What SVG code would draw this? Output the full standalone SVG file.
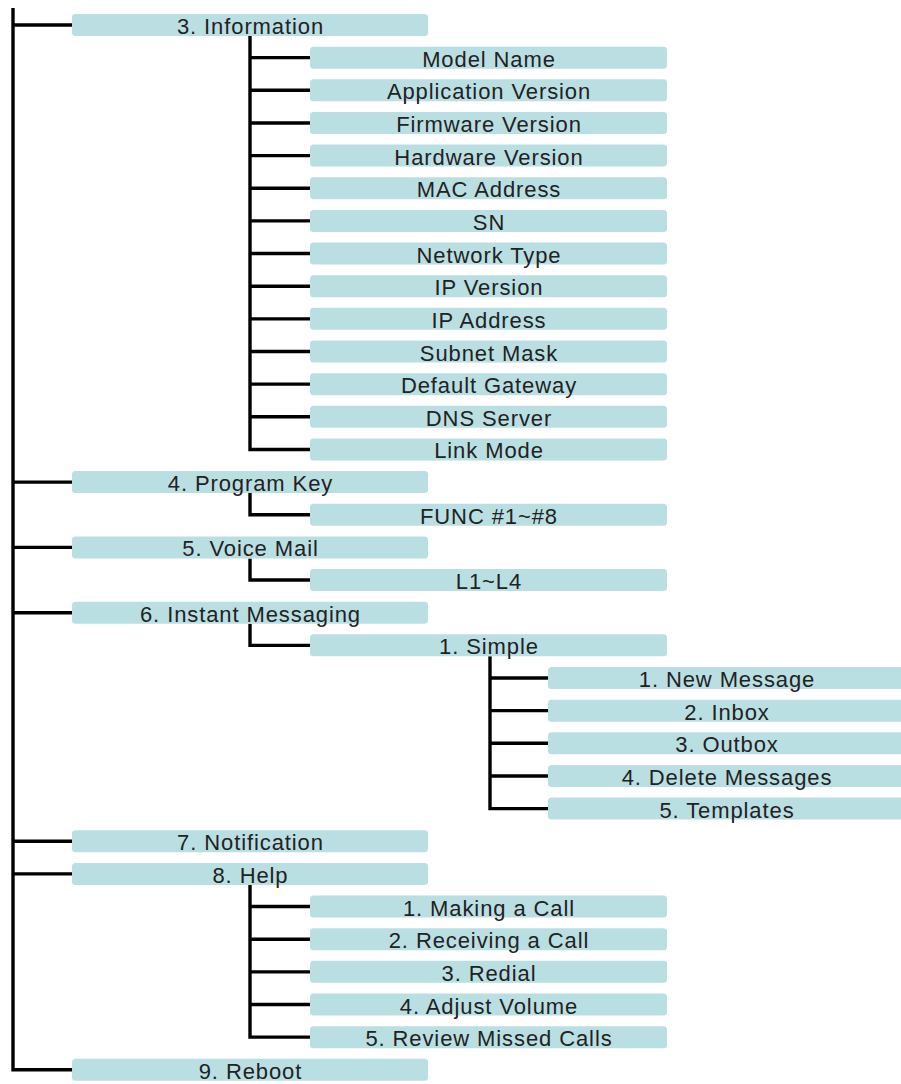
<svg xmlns="http://www.w3.org/2000/svg" width="901" height="1084" viewBox="0 0 901 1084">
<style>
.bx{fill:#BADFE2}
.t{font-family:"Liberation Sans",Arial,sans-serif;font-size:22px;letter-spacing:0.9px;fill:#222;text-anchor:middle}
.c{stroke:#000;stroke-width:3.4;fill:none;stroke-linejoin:miter;stroke-linecap:butt}
</style>
<rect width="901" height="1084" fill="#fff"/>
<g id="connectors" class="c">
<path d="M13,8 V1069.8 H72"/>
<path d="M13,25 H72 M13,482.1 H72 M13,547.4 H72 M13,612.7 H72 M13,841.25 H72 M13,873.9 H72"/>
<path d="M250,36 V449.45 H310 M250,57.65 H310 M250,90.3 H310 M250,122.95 H310 M250,155.6 H310 M250,188.25 H310 M250,220.9 H310 M250,253.55 H310 M250,286.2 H310 M250,318.85 H310 M250,351.5 H310 M250,384.15 H310 M250,416.8 H310"/>
<path d="M250,493 V514.75 H310"/>
<path d="M250,558.4 V580.05 H310"/>
<path d="M250,623.7 V645.35 H310"/>
<path d="M490,656.35 V808.6 H548 M490,678 H548 M490,710.65 H548 M490,743.3 H548 M490,775.95 H548"/>
<path d="M250,884.9 V1037.15 H310 M250,906.55 H310 M250,939.2 H310 M250,971.85 H310 M250,1004.5 H310"/>
</g>
<g id="n-information"><rect class="bx" x="72" y="14" width="356" height="22" rx="3.5"/><text class="t" x="250.5" y="34">3. Information</text></g>
<g id="n-model-name"><rect class="bx" x="310" y="46.65" width="357" height="22" rx="3.5"/><text class="t" x="489" y="66.65">Model Name</text></g>
<g id="n-application-version"><rect class="bx" x="310" y="79.3" width="357" height="22" rx="3.5"/><text class="t" x="489" y="99.3">Application Version</text></g>
<g id="n-firmware-version"><rect class="bx" x="310" y="111.95" width="357" height="22" rx="3.5"/><text class="t" x="489" y="131.95">Firmware Version</text></g>
<g id="n-hardware-version"><rect class="bx" x="310" y="144.6" width="357" height="22" rx="3.5"/><text class="t" x="489" y="164.6">Hardware Version</text></g>
<g id="n-mac-address"><rect class="bx" x="310" y="177.25" width="357" height="22" rx="3.5"/><text class="t" x="489" y="197.25">MAC Address</text></g>
<g id="n-sn"><rect class="bx" x="310" y="209.9" width="357" height="22" rx="3.5"/><text class="t" x="489" y="229.9">SN</text></g>
<g id="n-network-type"><rect class="bx" x="310" y="242.55" width="357" height="22" rx="3.5"/><text class="t" x="489" y="262.55">Network Type</text></g>
<g id="n-ip-version"><rect class="bx" x="310" y="275.2" width="357" height="22" rx="3.5"/><text class="t" x="489" y="295.2">IP Version</text></g>
<g id="n-ip-address"><rect class="bx" x="310" y="307.85" width="357" height="22" rx="3.5"/><text class="t" x="489" y="327.85">IP Address</text></g>
<g id="n-subnet-mask"><rect class="bx" x="310" y="340.5" width="357" height="22" rx="3.5"/><text class="t" x="489" y="360.5">Subnet Mask</text></g>
<g id="n-default-gateway"><rect class="bx" x="310" y="373.15" width="357" height="22" rx="3.5"/><text class="t" x="489" y="393.15">Default Gateway</text></g>
<g id="n-dns-server"><rect class="bx" x="310" y="405.8" width="357" height="22" rx="3.5"/><text class="t" x="489" y="425.8">DNS Server</text></g>
<g id="n-link-mode"><rect class="bx" x="310" y="438.45" width="357" height="22" rx="3.5"/><text class="t" x="489" y="458.45">Link Mode</text></g>
<g id="n-program-key"><rect class="bx" x="72" y="471.1" width="356" height="22" rx="3.5"/><text class="t" x="250.5" y="491.1">4. Program Key</text></g>
<g id="n-func"><rect class="bx" x="310" y="503.75" width="357" height="22" rx="3.5"/><text class="t" x="489" y="523.75">FUNC #1~#8</text></g>
<g id="n-voice-mail"><rect class="bx" x="72" y="536.4" width="356" height="22" rx="3.5"/><text class="t" x="250.5" y="556.4">5. Voice Mail</text></g>
<g id="n-l1-l4"><rect class="bx" x="310" y="569.05" width="357" height="22" rx="3.5"/><text class="t" x="489" y="589.05">L1~L4</text></g>
<g id="n-instant-messaging"><rect class="bx" x="72" y="601.7" width="356" height="22" rx="3.5"/><text class="t" x="250.5" y="621.7">6. Instant Messaging</text></g>
<g id="n-simple"><rect class="bx" x="310" y="634.35" width="357" height="22" rx="3.5"/><text class="t" x="489" y="654.35">1. Simple</text></g>
<g id="n-new-message"><rect class="bx" x="548" y="667" width="357" height="22" rx="3.5"/><text class="t" x="727" y="687">1. New Message</text></g>
<g id="n-inbox"><rect class="bx" x="548" y="699.65" width="357" height="22" rx="3.5"/><text class="t" x="727" y="719.65">2. Inbox</text></g>
<g id="n-outbox"><rect class="bx" x="548" y="732.3" width="357" height="22" rx="3.5"/><text class="t" x="727" y="752.3">3. Outbox</text></g>
<g id="n-delete-messages"><rect class="bx" x="548" y="764.95" width="357" height="22" rx="3.5"/><text class="t" x="727" y="784.95">4. Delete Messages</text></g>
<g id="n-templates"><rect class="bx" x="548" y="797.6" width="357" height="22" rx="3.5"/><text class="t" x="727" y="817.6">5. Templates</text></g>
<g id="n-notification"><rect class="bx" x="72" y="830.25" width="356" height="22" rx="3.5"/><text class="t" x="250.5" y="850.25">7. Notification</text></g>
<g id="n-help"><rect class="bx" x="72" y="862.9" width="356" height="22" rx="3.5"/><text class="t" x="250.5" y="882.9">8. Help</text></g>
<g id="n-making-a-call"><rect class="bx" x="310" y="895.55" width="357" height="22" rx="3.5"/><text class="t" x="489" y="915.55">1. Making a Call</text></g>
<g id="n-receiving-a-call"><rect class="bx" x="310" y="928.2" width="357" height="22" rx="3.5"/><text class="t" x="489" y="948.2">2. Receiving a Call</text></g>
<g id="n-redial"><rect class="bx" x="310" y="960.85" width="357" height="22" rx="3.5"/><text class="t" x="489" y="980.85">3. Redial</text></g>
<g id="n-adjust-volume"><rect class="bx" x="310" y="993.5" width="357" height="22" rx="3.5"/><text class="t" x="489" y="1013.5">4. Adjust Volume</text></g>
<g id="n-review-missed-calls"><rect class="bx" x="310" y="1026.15" width="357" height="22" rx="3.5"/><text class="t" x="489" y="1046.15">5. Review Missed Calls</text></g>
<g id="n-reboot"><rect class="bx" x="72" y="1058.8" width="356" height="22" rx="3.5"/><text class="t" x="250.5" y="1078.8">9. Reboot</text></g>
</svg>
